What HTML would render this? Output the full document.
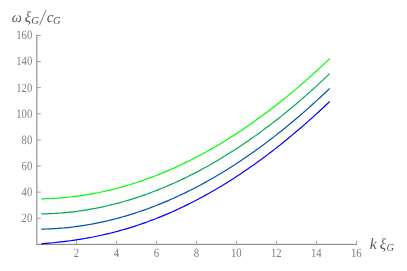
<!DOCTYPE html>
<html><head><meta charset="utf-8"><style>
html,body{margin:0;padding:0;background:#fff;}
svg{display:block;}
text{font-family:"Liberation Serif",serif;}
</style></head><body>
<svg width="407" height="271" viewBox="0 0 407 271">
<rect width="407" height="271" fill="#fff"/>
<g stroke="#7a7a7a" stroke-width="1.0" fill="none">
<line x1="36.89" y1="34.92" x2="36.89" y2="244.85"/>
<line x1="36.89" y1="244.35" x2="357.05" y2="244.35"/>
</g>
<g stroke="#a0a0a0" stroke-width="1.0" fill="none">
<line x1="36.89" y1="218.23" x2="40.89" y2="218.23"/><line x1="36.89" y1="192.12" x2="40.89" y2="192.12"/><line x1="36.89" y1="166.00" x2="40.89" y2="166.00"/><line x1="36.89" y1="139.89" x2="40.89" y2="139.89"/><line x1="36.89" y1="113.77" x2="40.89" y2="113.77"/><line x1="36.89" y1="87.65" x2="40.89" y2="87.65"/><line x1="36.89" y1="61.54" x2="40.89" y2="61.54"/><line x1="36.89" y1="35.42" x2="40.89" y2="35.42"/><line x1="76.55" y1="244.35" x2="76.55" y2="240.85"/><line x1="116.55" y1="244.35" x2="116.55" y2="240.85"/><line x1="156.55" y1="244.35" x2="156.55" y2="240.85"/><line x1="196.55" y1="244.35" x2="196.55" y2="240.85"/><line x1="236.55" y1="244.35" x2="236.55" y2="240.85"/><line x1="276.55" y1="244.35" x2="276.55" y2="240.85"/><line x1="316.55" y1="244.35" x2="316.55" y2="240.85"/><line x1="356.55" y1="244.35" x2="356.55" y2="240.85"/>
</g>
<path d="M41.35 243.91 L43.75 243.68 L46.16 243.45 L48.56 243.22 L50.96 242.98 L53.37 242.73 L55.77 242.48 L58.17 242.21 L60.58 241.94 L62.98 241.66 L65.38 241.36 L67.79 241.06 L70.19 240.74 L72.59 240.40 L75.00 240.06 L77.40 239.70 L79.80 239.32 L82.21 238.93 L84.61 238.53 L87.01 238.11 L89.42 237.67 L91.82 237.22 L94.22 236.75 L96.63 236.26 L99.03 235.75 L101.43 235.23 L103.84 234.70 L106.24 234.14 L108.64 233.57 L111.05 232.98 L113.45 232.37 L115.85 231.74 L118.26 231.10 L120.66 230.43 L123.06 229.75 L125.47 229.05 L127.87 228.34 L130.27 227.60 L132.68 226.85 L135.08 226.08 L137.48 225.29 L139.89 224.48 L142.29 223.65 L144.69 222.81 L147.10 221.94 L149.50 221.06 L151.90 220.16 L154.31 219.24 L156.71 218.30 L159.11 217.35 L161.52 216.37 L163.92 215.38 L166.32 214.36 L168.73 213.33 L171.13 212.28 L173.53 211.21 L175.94 210.13 L178.34 209.02 L180.74 207.89 L183.15 206.75 L185.55 205.59 L187.95 204.41 L190.36 203.21 L192.76 201.99 L195.16 200.75 L197.57 199.50 L199.97 198.22 L202.37 196.93 L204.78 195.62 L207.18 194.28 L209.58 192.93 L211.99 191.57 L214.39 190.18 L216.79 188.77 L219.20 187.35 L221.60 185.90 L224.00 184.44 L226.41 182.96 L228.81 181.46 L231.21 179.94 L233.62 178.40 L236.02 176.84 L238.42 175.27 L240.83 173.67 L243.23 172.06 L245.63 170.43 L248.04 168.78 L250.44 167.11 L252.84 165.42 L255.25 163.71 L257.65 161.99 L260.05 160.24 L262.46 158.48 L264.86 156.70 L267.26 154.89 L269.67 153.07 L272.07 151.23 L274.47 149.38 L276.88 147.50 L279.28 145.60 L281.68 143.69 L284.09 141.76 L286.49 139.80 L288.89 137.83 L291.30 135.84 L293.70 133.83 L296.10 131.81 L298.51 129.76 L300.91 127.70 L303.31 125.61 L305.72 123.51 L308.12 121.39 L310.52 119.25 L312.93 117.09 L315.33 114.91 L317.73 112.71 L320.14 110.50 L322.54 108.26 L324.94 106.01 L327.35 103.74 L329.75 101.44" fill="none" stroke="#0000ff" stroke-width="1.2" stroke-linecap="butt" stroke-linejoin="round"/>
<path d="M41.35 229.14 L43.75 229.09 L46.16 229.02 L48.56 228.93 L50.96 228.83 L53.37 228.70 L55.77 228.56 L58.17 228.39 L60.58 228.21 L62.98 228.00 L65.38 227.78 L67.79 227.54 L70.19 227.28 L72.59 227.00 L75.00 226.70 L77.40 226.38 L79.80 226.04 L82.21 225.68 L84.61 225.31 L87.01 224.91 L89.42 224.50 L91.82 224.07 L94.22 223.62 L96.63 223.15 L99.03 222.66 L101.43 222.15 L103.84 221.63 L106.24 221.08 L108.64 220.52 L111.05 219.93 L113.45 219.33 L115.85 218.71 L118.26 218.07 L120.66 217.42 L123.06 216.74 L125.47 216.05 L127.87 215.33 L130.27 214.60 L132.68 213.85 L135.08 213.08 L137.48 212.29 L139.89 211.48 L142.29 210.66 L144.69 209.81 L147.10 208.95 L149.50 208.07 L151.90 207.17 L154.31 206.25 L156.71 205.31 L159.11 204.35 L161.52 203.38 L163.92 202.38 L166.32 201.37 L168.73 200.34 L171.13 199.29 L173.53 198.22 L175.94 197.13 L178.34 196.02 L180.74 194.90 L183.15 193.75 L185.55 192.59 L187.95 191.41 L190.36 190.21 L192.76 188.99 L195.16 187.75 L197.57 186.49 L199.97 185.22 L202.37 183.92 L204.78 182.61 L207.18 181.28 L209.58 179.93 L211.99 178.56 L214.39 177.17 L216.79 175.76 L219.20 174.34 L221.60 172.89 L224.00 171.43 L226.41 169.95 L228.81 168.45 L231.21 166.93 L233.62 165.39 L236.02 163.83 L238.42 162.25 L240.83 160.66 L243.23 159.05 L245.63 157.41 L248.04 155.76 L250.44 154.09 L252.84 152.40 L255.25 150.69 L257.65 148.97 L260.05 147.22 L262.46 145.46 L264.86 143.67 L267.26 141.87 L269.67 140.05 L272.07 138.21 L274.47 136.35 L276.88 134.48 L279.28 132.58 L281.68 130.67 L284.09 128.73 L286.49 126.78 L288.89 124.81 L291.30 122.82 L293.70 120.81 L296.10 118.78 L298.51 116.73 L300.91 114.67 L303.31 112.58 L305.72 110.48 L308.12 108.36 L310.52 106.22 L312.93 104.06 L315.33 101.88 L317.73 99.68 L320.14 97.46 L322.54 95.23 L324.94 92.98 L327.35 90.70 L329.75 88.41" fill="none" stroke="#0055aa" stroke-width="1.2" stroke-linecap="butt" stroke-linejoin="round"/>
<path d="M41.35 213.92 L43.75 213.87 L46.16 213.80 L48.56 213.72 L50.96 213.61 L53.37 213.49 L55.77 213.35 L58.17 213.19 L60.58 213.01 L62.98 212.81 L65.38 212.59 L67.79 212.36 L70.19 212.10 L72.59 211.83 L75.00 211.54 L77.40 211.23 L79.80 210.90 L82.21 210.55 L84.61 210.18 L87.01 209.79 L89.42 209.39 L91.82 208.96 L94.22 208.52 L96.63 208.06 L99.03 207.58 L101.43 207.08 L103.84 206.56 L106.24 206.02 L108.64 205.46 L111.05 204.89 L113.45 204.29 L115.85 203.68 L118.26 203.05 L120.66 202.40 L123.06 201.73 L125.47 201.04 L127.87 200.33 L130.27 199.61 L132.68 198.86 L135.08 198.10 L137.48 197.31 L139.89 196.51 L142.29 195.69 L144.69 194.85 L147.10 193.99 L149.50 193.12 L151.90 192.22 L154.31 191.31 L156.71 190.37 L159.11 189.42 L161.52 188.45 L163.92 187.46 L166.32 186.45 L168.73 185.42 L171.13 184.38 L173.53 183.31 L175.94 182.23 L178.34 181.12 L180.74 180.00 L183.15 178.86 L185.55 177.70 L187.95 176.52 L190.36 175.32 L192.76 174.11 L195.16 172.87 L197.57 171.62 L199.97 170.35 L202.37 169.05 L204.78 167.74 L207.18 166.41 L209.58 165.07 L211.99 163.70 L214.39 162.31 L216.79 160.91 L219.20 159.48 L221.60 158.04 L224.00 156.58 L226.41 155.10 L228.81 153.60 L231.21 152.08 L233.62 150.55 L236.02 148.99 L238.42 147.41 L240.83 145.82 L243.23 144.21 L245.63 142.58 L248.04 140.93 L250.44 139.26 L252.84 137.57 L255.25 135.87 L257.65 134.14 L260.05 132.40 L262.46 130.63 L264.86 128.85 L267.26 127.05 L269.67 125.23 L272.07 123.39 L274.47 121.53 L276.88 119.66 L279.28 117.76 L281.68 115.85 L284.09 113.92 L286.49 111.96 L288.89 109.99 L291.30 108.00 L293.70 106.00 L296.10 103.97 L298.51 101.92 L300.91 99.86 L303.31 97.78 L305.72 95.67 L308.12 93.55 L310.52 91.41 L312.93 89.25 L315.33 87.07 L317.73 84.88 L320.14 82.66 L322.54 80.43 L324.94 78.17 L327.35 75.90 L329.75 73.61" fill="none" stroke="#00aa55" stroke-width="1.2" stroke-linecap="butt" stroke-linejoin="round"/>
<path d="M41.35 198.82 L43.75 198.78 L46.16 198.71 L48.56 198.63 L50.96 198.52 L53.37 198.40 L55.77 198.26 L58.17 198.10 L60.58 197.92 L62.98 197.72 L65.38 197.50 L67.79 197.27 L70.19 197.01 L72.59 196.74 L75.00 196.45 L77.40 196.14 L79.80 195.81 L82.21 195.46 L84.61 195.09 L87.01 194.70 L89.42 194.30 L91.82 193.87 L94.22 193.43 L96.63 192.97 L99.03 192.49 L101.43 191.99 L103.84 191.47 L106.24 190.93 L108.64 190.38 L111.05 189.80 L113.45 189.21 L115.85 188.59 L118.26 187.96 L120.66 187.31 L123.06 186.64 L125.47 185.95 L127.87 185.25 L130.27 184.52 L132.68 183.77 L135.08 183.01 L137.48 182.23 L139.89 181.43 L142.29 180.61 L144.69 179.77 L147.10 178.91 L149.50 178.03 L151.90 177.14 L154.31 176.22 L156.71 175.29 L159.11 174.34 L161.52 173.36 L163.92 172.37 L166.32 171.37 L168.73 170.34 L171.13 169.29 L173.53 168.23 L175.94 167.14 L178.34 166.04 L180.74 164.92 L183.15 163.78 L185.55 162.62 L187.95 161.44 L190.36 160.24 L192.76 159.02 L195.16 157.79 L197.57 156.53 L199.97 155.26 L202.37 153.97 L204.78 152.66 L207.18 151.33 L209.58 149.98 L211.99 148.61 L214.39 147.23 L216.79 145.82 L219.20 144.40 L221.60 142.96 L224.00 141.50 L226.41 140.02 L228.81 138.52 L231.21 137.00 L233.62 135.46 L236.02 133.91 L238.42 132.33 L240.83 130.74 L243.23 129.13 L245.63 127.49 L248.04 125.85 L250.44 124.18 L252.84 122.49 L255.25 120.78 L257.65 119.06 L260.05 117.31 L262.46 115.55 L264.86 113.77 L267.26 111.97 L269.67 110.15 L272.07 108.31 L274.47 106.45 L276.88 104.58 L279.28 102.68 L281.68 100.77 L284.09 98.83 L286.49 96.88 L288.89 94.91 L291.30 92.92 L293.70 90.91 L296.10 88.89 L298.51 86.84 L300.91 84.78 L303.31 82.69 L305.72 80.59 L308.12 78.47 L310.52 76.33 L312.93 74.17 L315.33 71.99 L317.73 69.80 L320.14 67.58 L322.54 65.35 L324.94 63.09 L327.35 60.82 L329.75 58.53" fill="none" stroke="#00ff00" stroke-width="1.2" stroke-linecap="butt" stroke-linejoin="round"/>
<g font-size="10.7" fill="#808080" opacity="0.999" text-rendering="geometricPrecision">
<text transform="translate(32.3 222.13) scale(1 1.180)" text-anchor="end">20</text>
<text transform="translate(32.3 196.02) scale(1 1.180)" text-anchor="end">40</text>
<text transform="translate(32.3 169.90) scale(1 1.180)" text-anchor="end">60</text>
<text transform="translate(32.3 143.79) scale(1 1.180)" text-anchor="end">80</text>
<text transform="translate(32.3 117.67) scale(1 1.180)" text-anchor="end">100</text>
<text transform="translate(32.3 91.55) scale(1 1.180)" text-anchor="end">120</text>
<text transform="translate(32.3 65.44) scale(1 1.180)" text-anchor="end">140</text>
<text transform="translate(32.3 39.32) scale(1 1.180)" text-anchor="end">160</text>
<text transform="translate(76.35 256.7) scale(1 1.180)" text-anchor="middle">2</text>
<text transform="translate(116.35 256.7) scale(1 1.180)" text-anchor="middle">4</text>
<text transform="translate(156.35 256.7) scale(1 1.180)" text-anchor="middle">6</text>
<text transform="translate(196.35 256.7) scale(1 1.180)" text-anchor="middle">8</text>
<text transform="translate(236.35 256.7) scale(1 1.180)" text-anchor="middle">10</text>
<text transform="translate(276.35 256.7) scale(1 1.180)" text-anchor="middle">12</text>
<text transform="translate(316.35 256.7) scale(1 1.180)" text-anchor="middle">14</text>
<text transform="translate(356.35 256.7) scale(1 1.180)" text-anchor="middle">16</text>
</g>
<g fill="#585858" font-style="italic" font-size="15" opacity="0.999" text-rendering="geometricPrecision">
<text x="11.8" y="21.8" font-size="14.2">ω</text>
<text x="24.7" y="22">ξ</text>
<text x="31.3" y="24.1" font-size="10.5">G</text>
<line x1="39.6" y1="25.0" x2="46.0" y2="10.2" stroke="#585858" stroke-width="0.8"/>
<text x="46.7" y="22">c</text>
<text x="53.1" y="24.0" font-size="10.5">G</text>
<text x="369.8" y="249" font-size="15.6">k</text>
<text x="379.7" y="249">ξ</text>
<text x="386.6" y="251.2" font-size="10.5">G</text>
</g>
</svg>
</body></html>
